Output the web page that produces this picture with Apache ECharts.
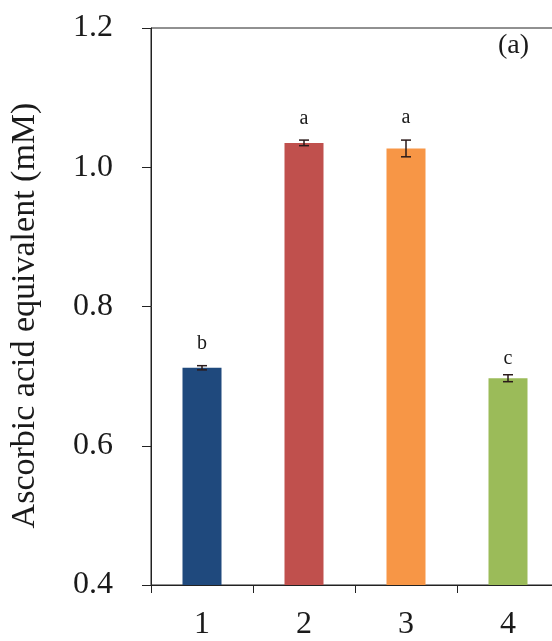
<!DOCTYPE html>
<html>
<head>
<meta charset="utf-8">
<script src="https://cdn.jsdelivr.net/npm/echarts@6/dist/echarts.min.js"></script>
<style>
  html, body { margin: 0; padding: 0; background: #fff; overflow: hidden; }
  /* the plot frame runs slightly past the right edge of the window */
  #chart { width: 562px; height: 641px; }
</style>
</head>
<body>
<div id="chart"></div>
<script>
// Treatment groups and measured antioxidant capacity
const categories = ['1', '2', '3', '4'];
const values = [0.712, 1.035, 1.027, 0.697];
const errors = [0.003, 0.004, 0.012, 0.005];
const letters = ['b', 'a', 'a', 'c'];
const barColors = ['#1F497D', '#C0504D', '#F79646', '#9BBB59'];
const letterGaps = [12, 11, 12, 6];

const serif = '"Liberation Serif", "Times New Roman", serif';

const chart = echarts.init(document.getElementById('chart'), null, { renderer: 'canvas' });

const barData = values.map((v, i) => ({
  value: v,
  itemStyle: { color: barColors[i] },
  label: { distance: errors[i] * 699 + letterGaps[i] }
}));

const errData = values.map((v, i) => [i, v - errors[i], v + errors[i]]);

chart.setOption({
  animation: false,
  backgroundColor: '#ffffff',
  grid: {
    left: 149, top: 28, width: 410, height: 559,
    show: true, borderColor: '#222', borderWidth: 1, backgroundColor: 'transparent'
  },
  xAxis: {
    type: 'category',
    data: categories,
    axisLine: { lineStyle: { color: '#222', width: 1 } },
    axisTick: { show: true, length: 8, lineStyle: { color: '#222' } },
    axisLabel: { fontFamily: serif, fontSize: 32, color: '#1a1a1a', margin: 24 }
  },
  yAxis: {
    type: 'value',
    min: 0.4, max: 1.2, interval: 0.2,
    name: 'Ascorbic acid equivalent (mM)',
    nameLocation: 'middle',
    nameGap: 109,
    nameTextStyle: { fontFamily: serif, fontSize: 34, color: '#1a1a1a', padding: [0, 18, 0, 0] },
    splitLine: { show: false },
    axisLine: { show: true, lineStyle: { color: '#222', width: 1 } },
    axisTick: { show: true, length: 9, lineStyle: { color: '#222' } },
    axisLabel: {
      fontFamily: serif, fontSize: 32, color: '#1a1a1a', margin: 38,
      formatter: v => v.toFixed(1)
    }
  },
  graphic: [{
    type: 'text',
    left: 498, top: 32,
    style: { text: '(a)', font: '28px ' + serif, fill: '#1a1a1a' }
  }],
  series: [
    {
      type: 'bar',
      data: barData,
      barWidth: 39,
      label: {
        show: true,
        position: 'top',
        fontFamily: serif,
        fontSize: 20,
        color: '#1a1a1a',
        formatter: p => letters[p.dataIndex]
      }
    },
    {
      type: 'custom',
      data: errData,
      z: 5,
      renderItem: function (params, api) {
        const x = api.value(0);
        const lo = api.coord([x, api.value(1)]);
        const hi = api.coord([x, api.value(2)]);
        const half = 5;
        const style = { stroke: '#2a1a1a', lineWidth: 1.5 };
        return {
          type: 'group',
          children: [
            { type: 'line', shape: { x1: lo[0], y1: lo[1], x2: hi[0], y2: hi[1] }, style },
            { type: 'line', shape: { x1: lo[0] - half, y1: lo[1], x2: lo[0] + half, y2: lo[1] }, style },
            { type: 'line', shape: { x1: hi[0] - half, y1: hi[1], x2: hi[0] + half, y2: hi[1] }, style }
          ]
        };
      }
    }
  ]
});
</script>
</body>
</html>
